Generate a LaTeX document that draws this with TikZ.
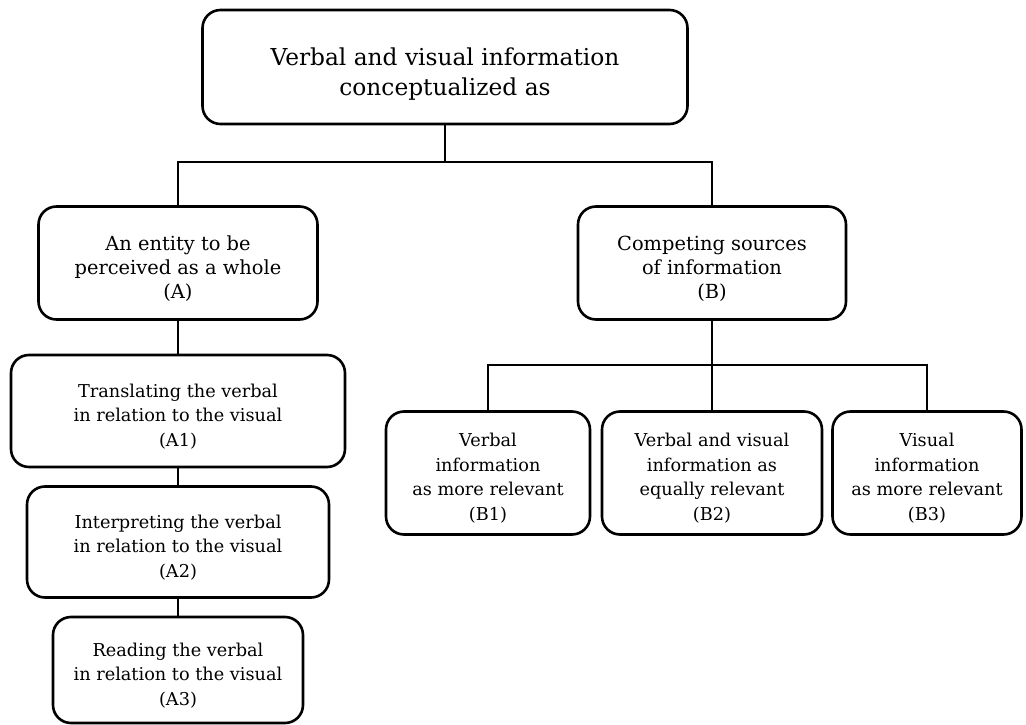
\documentclass[tikz,border=0pt]{standalone}
\usepackage{fontspec}
\setmainfont{DejaVu Serif}
\newcommand{\vpad}{\rule{0pt}{1.35em}}
\begin{document}
\begin{tikzpicture}[x=1pt, y=-1pt,
    box/.style={draw, line width=2.6pt, rounded corners=18pt, align=center, inner sep=0pt},
    topbox/.style={box, font=\fontsize{23.3}{30}\selectfont},
    midbox/.style={box, font=\fontsize{19.4}{24}\selectfont},
    leafbox/.style={box, font=\fontsize{17.7}{24.5}\selectfont},
    link/.style={line width=2pt}]
\useasboundingbox (0,0) rectangle (1026,725);

\node[topbox, minimum width=485pt, minimum height=114pt] (top) at (445,67)
    {\vpad Verbal and visual information\\conceptualized as};

\node[midbox, minimum width=279pt, minimum height=113pt] (A) at (178,263)
    {\vpad An entity to be\\perceived as a whole\\(A)};
\node[midbox, minimum width=268pt, minimum height=113pt] (B) at (712,263)
    {\vpad Competing sources\\of information\\(B)};

\node[leafbox, minimum width=334pt, minimum height=112pt] (A1) at (178,411)
    {\vpad Translating the verbal\\in relation to the visual\\(A1)};
\node[leafbox, minimum width=302pt, minimum height=111pt] (A2) at (178,542)
    {\vpad Interpreting the verbal\\in relation to the visual\\(A2)};
\node[leafbox, minimum width=250pt, minimum height=106pt] (A3) at (178,670)
    {\vpad Reading the verbal\\in relation to the visual\\(A3)};

\node[leafbox, minimum width=204pt, minimum height=123pt] (B1) at (488,473)
    {\vpad Verbal\\information\\as more relevant\\(B1)};
\node[leafbox, minimum width=220pt, minimum height=123pt] (B2) at (712,473)
    {\vpad Verbal and visual\\information as\\equally relevant\\(B2)};
\node[leafbox, minimum width=189pt, minimum height=123pt] (B3) at (927,473)
    {\vpad Visual\\information\\as more relevant\\(B3)};

\coordinate (tj) at (445,162);
\coordinate (bj) at (712,365);

\draw[link] (top.south) -- (tj);
\draw[link] (A.north) |- (tj) -| (B.north);
\draw[link] (A.south) -- (A1.north);
\draw[link] (A1.south) -- (A2.north);
\draw[link] (A2.south) -- (A3.north);
\draw[link] (B.south) -- (B2.north);
\draw[link] (B1.north) |- (bj) -| (B3.north);
\end{tikzpicture}
\end{document}
